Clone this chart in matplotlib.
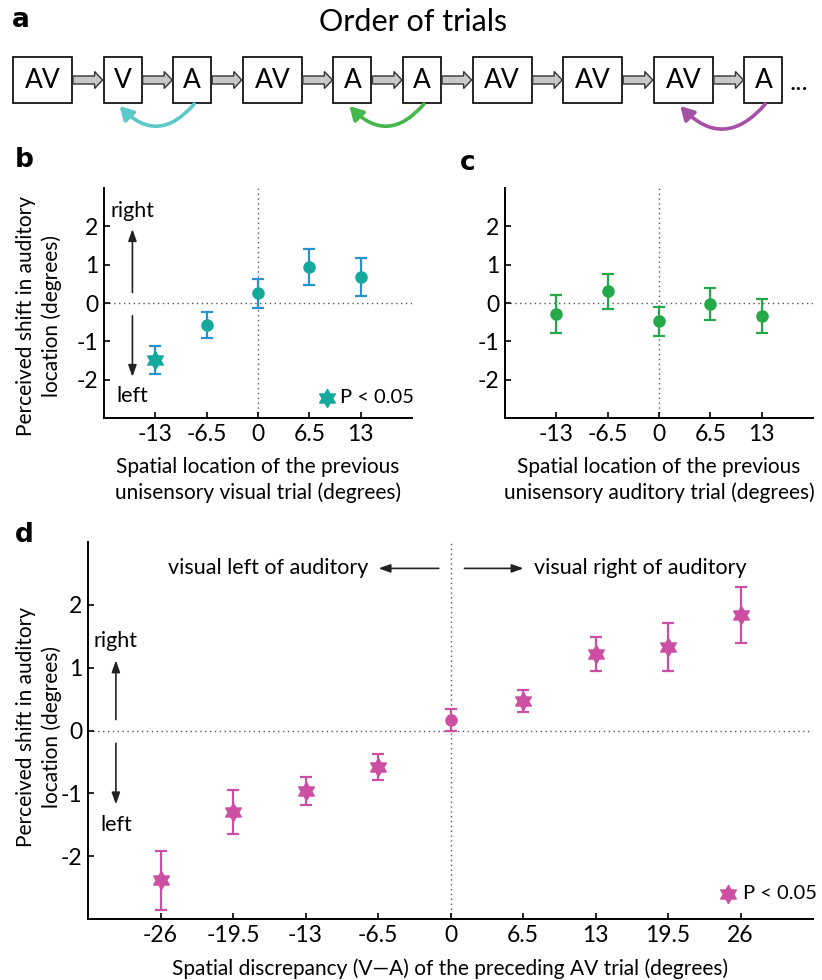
import matplotlib
matplotlib.use("Agg")
import matplotlib.pyplot as plt
from matplotlib.patches import Rectangle, FancyArrow, FancyArrowPatch
from matplotlib.path import Path
import numpy as np

plt.rcParams['font.family'] = ['Lato', 'DejaVu Sans']

# ---------------- data ----------------
trials = ['AV', 'V', 'A', 'AV', 'A', 'A', 'AV', 'AV', 'AV', 'A']
# (from box, to box, colour) for the curved arrows in panel a
links = [(2, 1, '#5ec9c9'), (5, 4, '#45b649'), (9, 8, '#a551a8')]

loc_b = [-13, -6.5, 0, 6.5, 13]
shift_b = [-1.48, -0.57, 0.25, 0.95, 0.68]
err_b = [0.37, 0.34, 0.37, 0.47, 0.49]
sig_b = [True, False, False, False, False]

loc_c = [-13, -6.5, 0, 6.5, 13]
shift_c = [-0.29, 0.30, -0.48, -0.03, -0.33]
err_c = [0.49, 0.45, 0.37, 0.41, 0.44]
sig_c = [False, False, False, False, False]

disc_d = [-26, -19.5, -13, -6.5, 0, 6.5, 13, 19.5, 26]
shift_d = [-2.38, -1.29, -0.96, -0.58, 0.17, 0.47, 1.22, 1.33, 1.84]
err_d = [0.47, 0.35, 0.22, 0.20, 0.18, 0.18, 0.27, 0.38, 0.45]
sig_d = [True, True, True, True, False, True, True, True, True]

tick_b = ['-13', '-6.5', '0', '6.5', '13']
tick_d = ['-26', '-19.5', '-13', '-6.5', '0', '6.5', '13', '19.5', '26']

STAR = Path.unit_regular_star(6, 0.58)
FS = 15   # main text size

W, H = 822, 980
fig = plt.figure(figsize=(W / 100, H / 100), dpi=100)


def px_axes(l, t, r, b):
    return fig.add_axes([l / W, 1 - b / H, (r - l) / W, (b - t) / H])


# ---------------- panel a ----------------
axa = px_axes(0, 0, W, 135)
axa.set_xlim(0, W)
axa.set_ylim(135, 0)
axa.axis('off')

x0, gap, top, bot = 13, 31.6, 57, 103
lefts, rights = [], []
x = x0
for lab in trials:
    w = 59 if len(lab) == 2 else 38
    axa.add_patch(Rectangle((x, top), w, bot - top, fc='white', ec='black', lw=1.2))
    axa.text(x + w / 2, (top + bot) / 2 + 1, lab, ha='center', va='center', fontsize=19)
    lefts.append(x)
    rights.append(x + w)
    x += w + gap

mid = (top + bot) / 2
for i in range(len(trials) - 1):
    axa.add_patch(FancyArrow(rights[i] + 1, mid, lefts[i + 1] - rights[i] - 2, 0,
                             width=8, head_width=17, head_length=8,
                             length_includes_head=True, fc='#c8c8c8', ec='#333333', lw=1))
axa.text(rights[-1] + 7, mid + 3, '...', ha='left', va='center', fontsize=19)

for a, b, col in links:
    xa = (lefts[a] + rights[a]) / 2 + 2
    xb = (lefts[b] + rights[b]) / 2 - 3
    axa.add_patch(FancyArrowPatch((xa, bot + 1), (xb, bot + 3),
                                  connectionstyle='arc3,rad=-0.55',
                                  arrowstyle='-|>,head_length=8,head_width=4.5',
                                  color=col, lw=2.6, mutation_scale=1,
                                  shrinkA=0, shrinkB=0))

fig.text(413 / W, 1 - 22 / H, 'Order of trials', ha='center', va='center', fontsize=22)
fig.text(12 / W, 1 - 20 / H, 'a', ha='left', va='center', fontsize=19, fontweight='bold',
         family='DejaVu Sans')


# ---------------- scatter panels ----------------
def style(ax, xlim, xticks, xlabels):
    ax.set_xlim(*xlim)
    ax.set_ylim(-3, 3)
    for s in ('top', 'right'):
        ax.spines[s].set_visible(False)
    for s in ('left', 'bottom'):
        ax.spines[s].set_linewidth(1.4)
    ax.set_yticks([-2, -1, 0, 1, 2])
    ax.set_yticklabels(['-2', '-1', '0', '1', '2'])
    ax.set_xticks(xticks)
    ax.set_xticklabels(xlabels)
    ax.tick_params(direction='in', length=4, width=1.2, labelsize=16.5, pad=4)
    ax.axhline(0, color='#555555', ls=(0, (1, 2.5)), lw=1, zorder=1)
    ax.axvline(0, color='#555555', ls=(0, (1, 2.5)), lw=1, zorder=1)


def points(ax, xs, ys, es, sig, mcol, ecol):
    ax.errorbar(xs, ys, yerr=es, fmt='none', ecolor=ecol, elinewidth=1.6,
                capsize=4, capthick=1.6, zorder=2)
    xs, ys, sig = np.array(xs), np.array(ys), np.array(sig)
    ax.plot(xs[~sig], ys[~sig], 'o', color=mcol, ms=8, zorder=3)
    ax.plot(xs[sig], ys[sig], ls='none', marker=STAR, color=mcol, ms=13, zorder=3)


ARROW = dict(arrowstyle='-|>,head_length=0.7,head_width=0.25', color='#222222', lw=1.2)
YLAB = 'Perceived shift in auditory\nlocation (degrees)'

axb = px_axes(104, 188, 412, 418)
style(axb, (-19.5, 19.5), loc_b, tick_b)
points(axb, loc_b, shift_b, err_b, sig_b, '#15a99d', '#2592d2')
axb.set_xlabel('Spatial location of the previous\nunisensory visual trial (degrees)',
               fontsize=FS, labelpad=9, linespacing=1.3)
axb.annotate('', xy=(-15.9, 2.0), xytext=(-15.9, 0.2), arrowprops=ARROW)
axb.annotate('', xy=(-15.9, -2.0), xytext=(-15.9, -0.26), arrowprops=ARROW)
axb.text(-15.9, 2.4, 'right', ha='center', va='center', fontsize=FS + 0.5)
axb.text(-15.9, -2.43, 'left', ha='center', va='center', fontsize=FS + 0.5)
axb.plot([8.8], [-2.47], ls='none', marker=STAR, color='#15a99d', ms=13, clip_on=False)
axb.text(10.4, -2.47, 'P < 0.05', ha='left', va='center', fontsize=FS - 0.5)
fig.text(39 / W, 1 - 316 / H, YLAB, rotation=90,
         ha='center', va='center', fontsize=FS, linespacing=1.3)
fig.text(15 / W, 1 - 160 / H, 'b', ha='left', va='center', fontsize=19, fontweight='bold',
         family='DejaVu Sans')

axc = px_axes(505, 188, 813, 418)
style(axc, (-19.5, 19.5), loc_c, tick_b)
points(axc, loc_c, shift_c, err_c, sig_c, '#24a94a', '#24a94a')
axc.set_xlabel('Spatial location of the previous\nunisensory auditory trial (degrees)',
               fontsize=FS, labelpad=9, linespacing=1.3)
fig.text(460 / W, 1 - 163 / H, 'c', ha='left', va='center', fontsize=19, fontweight='bold',
         family='DejaVu Sans')

axd = px_axes(88, 542, 813, 919)
style(axd, (-32.5, 32.5), disc_d, tick_d)
points(axd, disc_d, shift_d, err_d, sig_d, '#cc4fa3', '#cc4fa3')
axd.set_xlabel('Spatial discrepancy (V\u2014A) of the preceding AV trial (degrees)',
               fontsize=FS, labelpad=9)
axd.annotate('', xy=(-30.0, 1.16), xytext=(-30.0, 0.13), arrowprops=ARROW)
axd.annotate('', xy=(-30.0, -1.22), xytext=(-30.0, -0.16), arrowprops=ARROW)
axd.text(-30.0, 1.42, 'right', ha='center', va='center', fontsize=FS + 0.5)
axd.text(-30.0, -1.5, 'left', ha='center', va='center', fontsize=FS + 0.5)
axd.annotate('', xy=(-6.7, 2.58), xytext=(-0.8, 2.58), arrowprops=ARROW)
axd.annotate('', xy=(6.8, 2.58), xytext=(1.0, 2.58), arrowprops=ARROW)
axd.text(-7.4, 2.58, 'visual left of auditory', ha='right', va='center', fontsize=FS + 0.5)
axd.text(7.5, 2.58, 'visual right of auditory', ha='left', va='center', fontsize=FS + 0.5)
axd.plot([24.9], [-2.6], ls='none', marker=STAR, color='#cc4fa3', ms=13, clip_on=False)
axd.text(26.2, -2.6, 'P < 0.05', ha='left', va='center', fontsize=FS - 0.5)
fig.text(39 / W, 1 - 727 / H, YLAB, rotation=90,
         ha='center', va='center', fontsize=FS, linespacing=1.3)
fig.text(15 / W, 1 - 535 / H, 'd', ha='left', va='center', fontsize=19, fontweight='bold',
         family='DejaVu Sans')

fig.savefig('out.png', dpi=100)
